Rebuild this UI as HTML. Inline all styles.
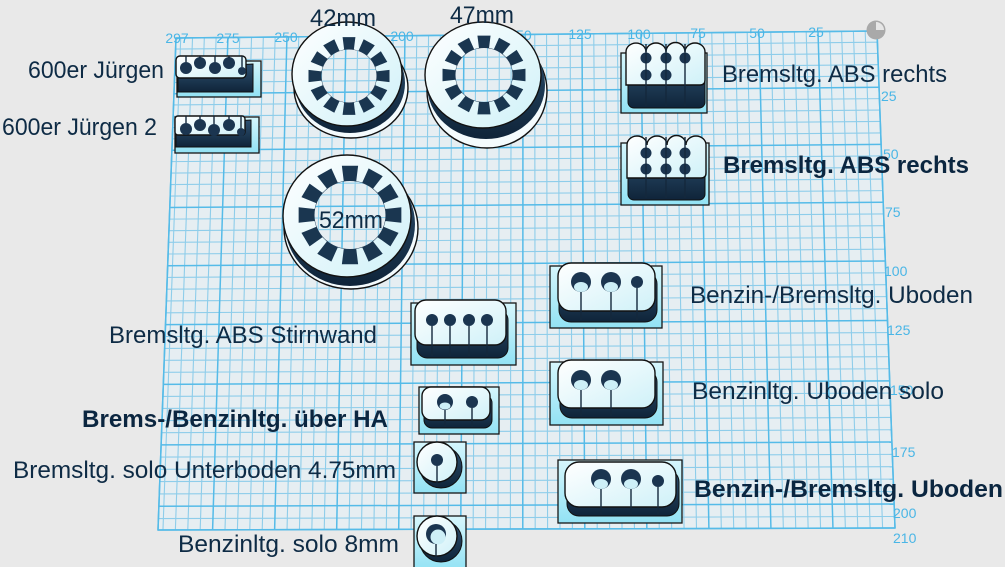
<!DOCTYPE html>
<html><head><meta charset="utf-8">
<style>
html,body{margin:0;padding:0;background:#e9e9e9;width:1005px;height:567px;overflow:hidden;}
svg{display:block;}
text{font-family:"Liberation Sans",Arial,sans-serif;}
.lbl{font-size:24px;fill:#0e2b45;}
.b{font-weight:bold;fill:#0b2640;}
.ax{font-size:14px;fill:#4ab6e6;}
.plate{fill:url(#pg);stroke:#161616;stroke-width:1.3;}
.top{fill:url(#tg);stroke:#111;stroke-width:1.4;}
.dk{fill:url(#dg);stroke:#111;stroke-width:1;}
.h{fill:#1b3550;}
.hl{fill:#cdeff7;}
.sl{stroke:#14283c;stroke-width:1.4;fill:none;}
</style></head><body>
<svg width="1005" height="567" viewBox="0 0 1005 567" xmlns="http://www.w3.org/2000/svg">
<defs>
<linearGradient id="pg" x1="0" y1="0" x2="0" y2="1"><stop offset="0" stop-color="#d6f6fc"/><stop offset="1" stop-color="#92e2f4"/></linearGradient>
<linearGradient id="tg" x1="0" y1="0" x2="1" y2="1"><stop offset="0" stop-color="#ffffff"/><stop offset="1" stop-color="#cff1f8"/></linearGradient>
<linearGradient id="dg" x1="0" y1="0" x2="0" y2="1"><stop offset="0" stop-color="#2e5272"/><stop offset="1" stop-color="#0f2439"/></linearGradient>
<mask id="m42" maskUnits="userSpaceOnUse" x="0" y="0" width="1005" height="567"><rect width="1005" height="567" fill="#fff"/><ellipse cx="349" cy="76" rx="27.5" ry="26.5" fill="#000"/></mask>
<mask id="m47" maskUnits="userSpaceOnUse" x="0" y="0" width="1005" height="567"><rect width="1005" height="567" fill="#fff"/><ellipse cx="484" cy="75" rx="28.5" ry="27" fill="#000"/></mask>
<mask id="m52" maskUnits="userSpaceOnUse" x="0" y="0" width="1005" height="567"><rect width="1005" height="567" fill="#fff"/><ellipse cx="350" cy="215" rx="35.5" ry="34" fill="#000"/></mask>
</defs>

<rect width="1005" height="567" fill="#e9e9e9"/>
<!-- grid plane -->
<polygon points="176,38 877,31 895,528 158,530" fill="#e6eef2"/>
<g id="grid"></g>
<polygon points="176,38 877,31 895,528 158,530" fill="none" stroke="#55bbe8" stroke-width="1.5"/>

<!-- axis labels -->
<g class="ax" text-anchor="middle">
<text x="177" y="43">297</text>
<text x="228" y="43">275</text>
<text x="286" y="42">250</text>
<text x="402" y="41">200</text>
<text x="520" y="40">150</text>
<text x="580" y="39">125</text>
<text x="639" y="39">100</text>
<text x="698" y="38">75</text>
<text x="757" y="38">50</text>
<text x="816" y="37">25</text>
</g>
<g class="ax">
<text x="881" y="101">25</text>
<text x="883" y="159">50</text>
<text x="885" y="217">75</text>
<text x="884" y="276">100</text>
<text x="887" y="335">125</text>
<text x="890" y="395">150</text>
<text x="892" y="457">175</text>
<text x="893" y="518">200</text>
<text x="893" y="543">210</text>
</g>

<!-- 600er Jürgen -->
<rect class="plate" x="177" y="61" width="84" height="36"/>
<path class="dk" d="M178,68 L253,64 L253,92 L178,92 Z"/>
<rect class="top" x="176" y="56" width="70" height="22" rx="4"/>
<g class="h"><circle cx="186" cy="68" r="6"/><circle cx="200" cy="63" r="6"/><circle cx="215" cy="68" r="6"/><circle cx="229" cy="63" r="6"/><circle cx="242" cy="71" r="4"/></g>
<path class="sl" d="M186,56V62 M200,56V58 M215,56V62 M229,56V58 M242,56V67"/>

<!-- 600er Jürgen 2 -->
<rect class="plate" x="175" y="117" width="84" height="36"/>
<path class="dk" d="M176,124 L251,120 L251,147 L176,147 Z"/>
<rect class="top" x="175" y="116" width="70" height="19" rx="3"/>
<g class="h"><circle cx="186" cy="129" r="6"/><circle cx="200" cy="125" r="6"/><circle cx="214" cy="130" r="6"/><circle cx="229" cy="125" r="6"/><circle cx="241" cy="132" r="4"/></g>
<path class="sl" d="M186,116V123 M200,116V119 M214,116V124 M229,116V119 M241,116V128"/>

<!-- 42mm ring -->
<g mask="url(#m42)">
<ellipse cx="351" cy="88" rx="57" ry="50" fill="#f4fbfd" stroke="#111" stroke-width="1.4"/>
<ellipse cx="350" cy="83" rx="55" ry="50" fill="url(#dg)"/>
<ellipse cx="347" cy="74" rx="55" ry="52" class="top"/>
<path id="g42" fill="#1a3650" d=""/>
</g>
<!-- 47mm ring -->
<g mask="url(#m47)">
<ellipse cx="487" cy="91" rx="60" ry="57" fill="#f4fbfd" stroke="#111" stroke-width="1.4"/>
<ellipse cx="486" cy="85" rx="59" ry="54" fill="url(#dg)"/>
<ellipse cx="483" cy="75" rx="58" ry="53" class="top"/>
<path id="g47" fill="#1a3650" d=""/>
</g>
<!-- 52mm ring -->
<g mask="url(#m52)">
<ellipse cx="351" cy="228" rx="67" ry="61" fill="#f4fbfd" stroke="#111" stroke-width="1.4"/>
<ellipse cx="350" cy="224" rx="65" ry="62" fill="url(#dg)"/>
<ellipse cx="347" cy="216" rx="64" ry="61" class="top"/>
<path id="g52" fill="#1a3650" d=""/>
</g>

<!-- Bremsltg ABS rechts (top) -->
<rect class="plate" x="621" y="53" width="86" height="60"/>
<rect class="dk" x="628" y="60" width="77" height="48" rx="6"/>
<path class="top" d="M626,85 V52 A10,9 0 0 1 646,52 A10,9 0 0 1 666,52 A9,9 0 0 1 685,52 A10,9 0 0 1 705,52 V80 Q705,85 700,85 Z"/>
<g class="h"><circle cx="646" cy="58" r="5.5"/><circle cx="666" cy="58" r="5.5"/><circle cx="685" cy="58" r="5.5"/><circle cx="646" cy="75" r="5.5"/><circle cx="666" cy="75" r="5.5"/></g>
<path class="sl" d="M646,44V106 M666,44V106 M685,44V106"/>

<!-- Bremsltg ABS rechts (bold) -->
<rect class="plate" x="621" y="143" width="88" height="62"/>
<rect class="dk" x="628" y="150" width="77" height="50" rx="6"/>
<path class="top" d="M627,178 V145 A10,9 0 0 1 647,145 A10,9 0 0 1 667,145 A9,9 0 0 1 686,145 A10,9 0 0 1 706,145 V173 Q706,178 701,178 Z"/>
<g class="h"><circle cx="646" cy="153" r="5.5"/><circle cx="666" cy="153" r="5.5"/><circle cx="685" cy="153" r="5.5"/><circle cx="646" cy="169" r="5.5"/><circle cx="666" cy="169" r="5.5"/><circle cx="685" cy="169" r="5.5"/></g>
<path class="sl" d="M646,137V198 M666,137V198 M685,137V198"/>

<!-- Benzin-/Bremsltg. Uboden -->
<rect class="plate" x="550" y="266" width="112" height="62"/>
<rect class="dk" x="559" y="272" width="98" height="50" rx="12"/>
<rect class="top" x="558" y="263" width="97" height="48" rx="13"/>
<g class="h"><circle cx="581" cy="282" r="10"/><circle cx="611" cy="282" r="10"/><circle cx="637" cy="282" r="6"/></g>
<g class="hl"><ellipse cx="581" cy="287" rx="7" ry="5"/><ellipse cx="611" cy="287" rx="7" ry="5"/></g>
<path class="sl" d="M581,292V320 M611,292V320 M637,288V320"/>

<!-- Benzinltg. Uboden solo -->
<rect class="plate" x="550" y="362" width="113" height="63"/>
<rect class="dk" x="560" y="370" width="97" height="48" rx="12"/>
<rect class="top" x="558" y="360" width="97" height="48" rx="13"/>
<g class="h"><circle cx="581" cy="380" r="10"/><circle cx="611" cy="380" r="10"/></g>
<g class="hl"><ellipse cx="581" cy="385" rx="7" ry="5"/><ellipse cx="611" cy="385" rx="7" ry="5"/></g>
<path class="sl" d="M581,390V416 M611,390V416"/>

<!-- Bremsltg. ABS Stirnwand -->
<rect class="plate" x="411" y="303" width="105" height="62"/>
<rect class="dk" x="417" y="310" width="91" height="48" rx="10"/>
<rect class="top" x="415" y="300" width="91" height="45" rx="11"/>
<g class="h"><circle cx="432" cy="320" r="6"/><circle cx="450" cy="320" r="6"/><circle cx="469" cy="320" r="6"/><circle cx="487" cy="320" r="6"/></g>
<path class="sl" d="M432,326V356 M450,326V356 M469,326V356 M487,326V356"/>

<!-- Brems-/Benzinltg. über HA -->
<rect class="plate" x="419" y="387" width="80" height="47"/>
<rect class="dk" x="424" y="395" width="68" height="33" rx="8"/>
<rect class="top" x="422" y="387" width="68" height="33" rx="9"/>
<g class="h"><circle cx="445" cy="402" r="8"/><circle cx="472" cy="402" r="6"/></g>
<ellipse class="hl" cx="445" cy="406" rx="5.5" ry="3.5"/>
<path class="sl" d="M445,410V427 M472,408V427"/>

<!-- Bremsltg. solo Unterboden 4.75mm -->
<rect class="plate" x="414" y="442" width="52" height="51"/>
<circle cx="441" cy="467" r="21" fill="url(#dg)" stroke="#111" stroke-width="1"/>
<circle cx="437" cy="462" r="20" class="top"/>
<circle class="h" cx="437" cy="460" r="6"/>
<path class="sl" d="M437,466V486"/>

<!-- Benzinltg. solo 8mm -->
<rect class="plate" x="414" y="516" width="52" height="55"/>
<circle cx="441" cy="541" r="21" fill="url(#dg)" stroke="#111" stroke-width="1"/>
<circle cx="437" cy="536" r="20" class="top"/>
<circle class="h" cx="436" cy="534" r="10"/>
<circle class="hl" cx="438" cy="537" r="7.5"/>
<path class="sl" d="M436,544V560"/>

<!-- Benzin-/Bremsltg. Uboden (bold) -->
<rect class="plate" x="558" y="460" width="124" height="63"/>
<rect class="dk" x="567" y="470" width="112" height="46" rx="12"/>
<rect class="top" x="565" y="462" width="111" height="45" rx="14"/>
<g class="h"><circle cx="601" cy="479" r="10"/><circle cx="631" cy="479" r="10"/><circle cx="658" cy="481" r="6"/></g>
<g class="hl"><ellipse cx="601" cy="484" rx="7" ry="5"/><ellipse cx="631" cy="484" rx="7" ry="5"/></g>
<path class="sl" d="M601,489V514 M631,489V514 M658,487V514"/>

<!-- top-right icon -->
<circle cx="876" cy="30" r="9.5" fill="#a9a9a9"/>
<path d="M876,30 L876,22 A8,8 0 0 1 884,30 Z" fill="#e6e6e6"/>

<!-- labels -->
<g class="lbl">
<text x="28" y="78" textLength="136" lengthAdjust="spacingAndGlyphs">600er Jürgen</text>
<text x="2" y="135" textLength="155" lengthAdjust="spacingAndGlyphs">600er Jürgen 2</text>
<text x="310" y="26" textLength="66" lengthAdjust="spacingAndGlyphs">42mm</text>
<text x="450" y="23" textLength="64" lengthAdjust="spacingAndGlyphs">47mm</text>
<text x="319" y="228" textLength="64" lengthAdjust="spacingAndGlyphs">52mm</text>
<text x="722" y="82" textLength="225" lengthAdjust="spacingAndGlyphs">Bremsltg. ABS rechts</text>
<text class="b" x="723" y="173" textLength="246" lengthAdjust="spacingAndGlyphs">Bremsltg. ABS rechts</text>
<text x="690" y="303" textLength="283" lengthAdjust="spacingAndGlyphs">Benzin-/Bremsltg. Uboden</text>
<text x="109" y="343" textLength="268" lengthAdjust="spacingAndGlyphs">Bremsltg. ABS Stirnwand</text>
<text x="692" y="399" textLength="252" lengthAdjust="spacingAndGlyphs">Benzinltg. Uboden solo</text>
<text class="b" x="82" y="427" textLength="306" lengthAdjust="spacingAndGlyphs">Brems-/Benzinltg. über HA</text>
<text x="13" y="478" textLength="383" lengthAdjust="spacingAndGlyphs">Bremsltg. solo Unterboden 4.75mm</text>
<text class="b" x="694" y="497" textLength="309" lengthAdjust="spacingAndGlyphs">Benzin-/Bremsltg. Uboden</text>
<text x="178" y="552" textLength="221" lengthAdjust="spacingAndGlyphs">Benzinltg. solo 8mm</text>
</g>
</svg>
<script>
(function(){
var NS="http://www.w3.org/2000/svg";
var g=document.getElementById("grid");
var TL=[176,38],TR=[877,31],BL=[158,530],BR=[895,528];
function lerp(a,b,t){return [a[0]+(b[0]-a[0])*t,a[1]+(b[1]-a[1])*t];}
function ln(p,q,maj){var e=document.createElementNS(NS,"line");
e.setAttribute("x1",p[0].toFixed(2));e.setAttribute("y1",p[1].toFixed(2));
e.setAttribute("x2",q[0].toFixed(2));e.setAttribute("y2",q[1].toFixed(2));
e.setAttribute("stroke",maj?"#55bbe8":"#8ecdea");e.setAttribute("stroke-width",maj?"1.5":"1.1");g.appendChild(e);}
function tv(v){var t=(2.235*v+0.00065*v*v)/497;return Math.min(t,1);}
var us=[];for(var u=0;u<=295;u+=5)us.push(u);us.push(297);
var pass,i,v;
for(pass=0;pass<2;pass++){
 for(i=0;i<us.length;i++){var uu=us[i];var maj=(uu%25===0)||uu===297;if(maj!==(pass===1))continue;var s=uu/297;ln(lerp(TR,TL,s),lerp(BR,BL,s),maj);}
 for(v=0;v<=210;v+=5){var mj=(v%25===0)||v===210;if(mj!==(pass===1))continue;var t=tv(v);ln(lerp(TL,BL,t),lerp(TR,BR,t),mj);}
}
function gear(id,cx,cy,R,r,sy){var d="";var first=true;
 function pt(rad,deg){var a=deg*Math.PI/180;return (cx+rad*Math.cos(a)).toFixed(2)+","+(cy+rad*Math.sin(a)*sy).toFixed(2);}
 for(var k=0;k<12;k++){var c=k*30;var pts=[pt(r,c-10),pt(R,c-9),pt(R,c+9),pt(r,c+10)];
  for(var j=0;j<4;j++){d+=(first?"M":"L")+pts[j]+" ";first=false;}}
 d+="Z";document.getElementById(id).setAttribute("d",d);}
gear("g42",349,76,41,28,0.96);
gear("g47",484,75,42,29,0.95);
gear("g52",350,215,52,36,0.96);
})();
</script>
</body></html>
